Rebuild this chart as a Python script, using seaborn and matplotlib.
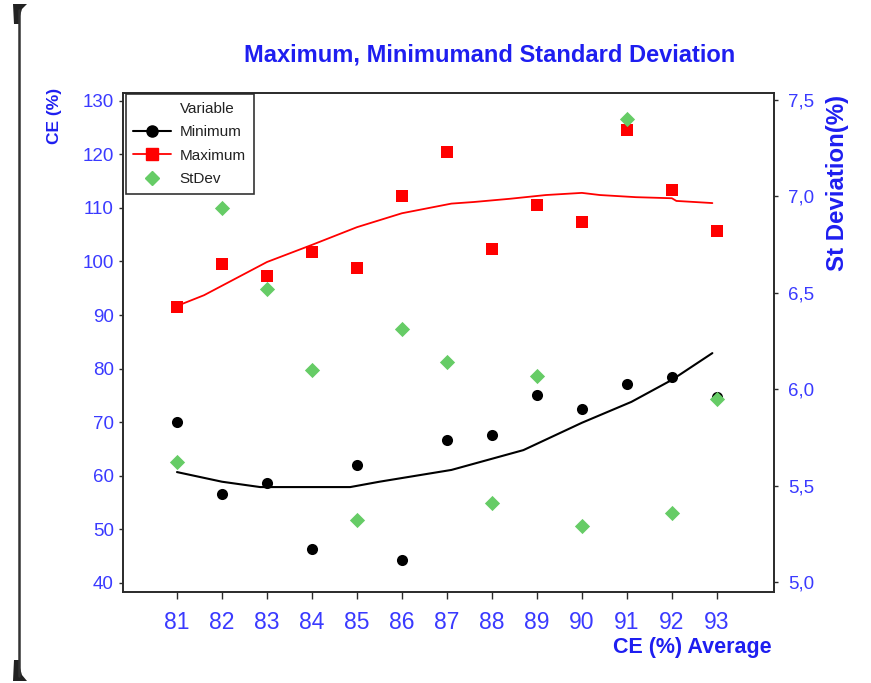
import numpy as np
import pandas as pd
import seaborn as sns
import matplotlib
matplotlib.use("Agg")
import matplotlib.pyplot as plt
from matplotlib.lines import Line2D
from matplotlib.patches import Polygon
from matplotlib.ticker import FixedLocator, FuncFormatter

# ---- data -------------------------------------------------------------
ce_avg = [81, 82, 83, 84, 85, 86, 87, 88, 89, 90, 91, 92, 93]
minimum = [70.0, 56.6, 58.7, 46.3, 62.0, 44.3, 66.7, 67.6, 75.1, 72.5, 77.1, 78.4, 74.7]
maximum = [91.5, 99.5, 97.2, 101.7, 98.8, 112.2, 120.4, 102.3, 110.5, 107.3, 124.5, 113.3, 105.6]
stdev = [5.62, 6.94, 6.52, 6.10, 5.32, 6.31, 6.14, 5.41, 6.07, 5.29, 7.40, 5.36, 5.95]

# smoothed trend curves
min_fit_x = [81.0, 82.0, 82.85, 84.85, 85.5, 87.1, 88.7, 90.0, 91.1, 92.0, 92.9]
min_fit_y = [60.7, 58.9, 57.9, 57.9, 58.9, 61.1, 64.8, 69.9, 73.8, 77.9, 82.9]
max_fit_x = [81.0, 81.6, 83.0, 84.0, 85.0, 86.0, 87.1, 87.6, 88.4, 89.2, 90.0, 90.4,
             91.2, 92.0, 92.1, 92.9]
max_fit_y = [91.7, 93.7, 99.9, 103.1, 106.4, 109.0, 110.8, 111.1, 111.7, 112.4, 112.8,
             112.4, 112.0, 111.8, 111.3, 110.9]

left_ticks = [40, 50, 60, 70, 80, 90, 100, 110, 120, 130]
right_ticks = [5.0, 5.5, 6.0, 6.5, 7.0, 7.5]

# ---- style ------------------------------------------------------------
sns.set_style("white")
FONT = ["Liberation Sans", "DejaVu Sans"]
plt.rcParams["font.family"] = FONT
BLUE = "#3a3aff"
TITLE_BLUE = "#1e1ef0"
SPINE = "#2a2a2a"
RED = "#ff0000"
GREEN = "#66cc66"

W, H = 871, 683
fig = plt.figure(figsize=(W / 100, H / 100), dpi=100)
fig.patch.set_facecolor("white")
ax = fig.add_axes([123 / W, 1 - 592 / H, (774 - 123) / W, (592 - 93) / H])
ax2 = ax.twinx()

pts = pd.DataFrame({"ce": ce_avg, "Minimum": minimum, "Maximum": maximum, "StDev": stdev})
min_fit = pd.DataFrame({"ce": min_fit_x, "val": min_fit_y})
max_fit = pd.DataFrame({"ce": max_fit_x, "val": max_fit_y})

# left axis: minimum / maximum with trend curves
sns.lineplot(data=min_fit, x="ce", y="val", ax=ax, color="black", lw=1.5,
             sort=False, estimator=None, zorder=2)
sns.lineplot(data=max_fit, x="ce", y="val", ax=ax, color=RED, lw=1.3,
             sort=False, estimator=None, zorder=2)
sns.scatterplot(data=pts, x="ce", y="Minimum", ax=ax, marker="o", color="black",
                s=64, edgecolor="black", linewidth=0, zorder=3)
sns.scatterplot(data=pts, x="ce", y="Maximum", ax=ax, marker="s", color=RED,
                s=66, edgecolor=RED, linewidth=0, zorder=4)

# right axis: standard deviation
sns.scatterplot(data=pts, x="ce", y="StDev", ax=ax2, marker="D", color=GREEN,
                s=60, edgecolor=GREEN, linewidth=0, zorder=3)

ax.set_xlim(79.8, 94.27)
ax.set_ylim(38.32, 131.44)
ax2.set_ylim(4.948, 7.536)

ax.xaxis.set_major_locator(FixedLocator(ce_avg))
ax.yaxis.set_major_locator(FixedLocator(left_ticks))
ax2.yaxis.set_major_locator(FixedLocator(right_ticks))
ax2.yaxis.set_major_formatter(FuncFormatter(lambda v, p: f"{v:.1f}".replace(".", ",")))

ax.set_xlabel("")
ax.set_ylabel("")
ax2.set_ylabel("")

for a in (ax, ax2):
    for s in a.spines.values():
        s.set_color(SPINE)
        s.set_linewidth(1.2)

ax.tick_params(axis="x", direction="out", length=5, width=1, color=SPINE,
               labelcolor=BLUE, labelsize=16.5, pad=9, bottom=True)
ax.tick_params(axis="y", direction="out", length=3, width=1, color=SPINE,
               labelcolor=BLUE, labelsize=13.5, pad=3.5, left=True)
ax2.tick_params(axis="y", direction="out", length=3, width=1, color=SPINE,
                labelcolor=BLUE, labelsize=13.5, pad=7, right=True)

# legend
handles = [
    Line2D([], [], linestyle="none", marker=None),
    Line2D([], [], color="black", lw=1.5, marker="o", markersize=8),
    Line2D([], [], color=RED, lw=1.3, marker="s", markersize=8.5),
    Line2D([], [], linestyle="none", color=GREEN, marker="D", markersize=7.5),
]
labels = ["Variable", "Minimum", "Maximum", "StDev"]
leg = ax.legend(handles, labels, loc="upper left", bbox_to_anchor=(0.004, 0.998),
                borderaxespad=0, frameon=True, fancybox=False,
                handlelength=2.5, handletextpad=0.55, labelspacing=0.62,
                borderpad=0.5, prop={"family": FONT, "size": 11})
leg.get_frame().set_edgecolor("black")
leg.get_frame().set_linewidth(1.2)
for t in leg.get_texts():
    t.set_color("#222222")

# titles and axis labels
fig.text(490 / W, 1 - 55 / H, "Maximum, Minimumand Standard Deviation",
         ha="center", va="center", color=TITLE_BLUE, fontsize=17,
         fontweight="bold", family=FONT)
fig.text(55 / W, 1 - 88 / H, "CE (%)", rotation=90, ha="center", va="top",
         color=TITLE_BLUE, fontsize=12.5, fontweight="bold", family=FONT)
fig.text(837 / W, 1 - 95 / H, "St Deviation(%)", rotation=90, ha="center", va="top",
         color=TITLE_BLUE, fontsize=17.3, fontweight="bold", family=FONT)
fig.text(772 / W, 1 - 648 / H, "CE (%) Average", ha="right", va="center",
         color=TITLE_BLUE, fontsize=15.5, fontweight="bold", family=FONT)

# page edge bracket on the left
fig.add_artist(Line2D([19 / W, 19 / W], [1 - 10 / H, 1 - 676 / H], color="#333333",
                      lw=1.8, transform=fig.transFigure))
top_corner = [(13, 4), (27, 4), (22, 9), (20, 16), (20, 24), (14, 24)]
bot_corner = [(14, 660), (20, 660), (20, 668), (22, 675), (27, 681), (13, 681)]
for pts_px in (top_corner, bot_corner):
    fig.add_artist(Polygon([(x / W, 1 - y / H) for x, y in pts_px], closed=True,
                           facecolor="#222222", edgecolor="none",
                           transform=fig.transFigure))

fig.savefig("out.png", dpi=100, facecolor="white")
